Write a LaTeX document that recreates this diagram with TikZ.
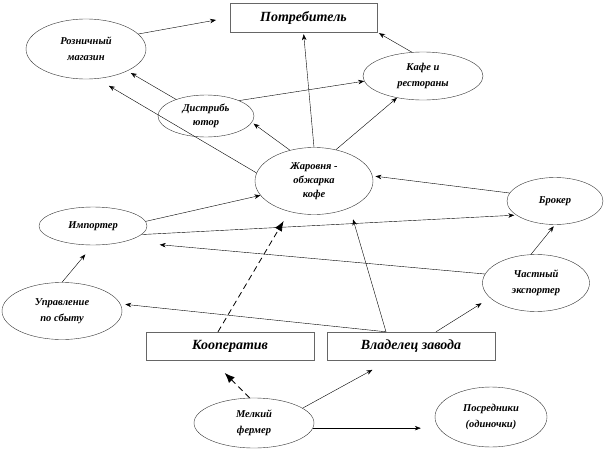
\documentclass[tikz,border=0pt]{standalone}
\usepackage{fontspec}
\setmainfont{Liberation Serif}
\usetikzlibrary{shapes.geometric, arrows.meta}
\tikzset{
  oval/.style={ellipse, draw=black!80, thin, inner sep=0pt, align=center,
    font=\fontsize{10.5}{16}\selectfont\bfseries\itshape},
  box/.style={rectangle, draw=black!60, thin, inner sep=0pt,
    font=\fontsize{14}{16}\selectfont\bfseries\itshape},
  arr/.style={-{Stealth[length=6pt,width=4.5pt]}, thin},
  darr/.style={-{Latex[length=10pt,width=8pt]}, thick, dash pattern=on 6pt off 4pt},
}

\begin{document}
\begin{tikzpicture}[x=1pt, y=-1pt]
    \useasboundingbox (0,0) rectangle (606,450);

    \node[box, minimum width=147pt, minimum height=29pt] (potr) at (303.5,17.5) {Потребитель};
    \node[box, minimum width=168pt, minimum height=28pt] (koop) at (230,346) {Кооператив};
    \node[box, minimum width=168pt, minimum height=28pt] (vlad) at (411,346) {Владелец завода};

    \node[oval, minimum width=120pt, minimum height=60pt] (roz) at (86,49) {Розничный\\магазин};
    \node[oval, minimum width=120pt, minimum height=48pt] (kafe) at (423,76) {Кафе и\\рестораны};
    \node[oval, minimum width=96pt, minimum height=42pt, font=\fontsize{10.5}{14}\selectfont\bfseries\itshape] (dist) at (206,116) {Дистрибь\\ютор};
    \node[oval, minimum width=118pt, minimum height=67pt, font=\fontsize{10.5}{14}\selectfont\bfseries\itshape] (zhar) at (314,181) {Жаровня -\\обжарка\\кофе};
    \node[oval, minimum width=108pt, minimum height=38pt] (imp) at (93,226) {Импортер};
    \node[oval, minimum width=96pt, minimum height=47pt] (brok) at (555,201) {Брокер};
    \node[oval, minimum width=120pt, minimum height=57pt] (upr) at (62,311) {Управление\\по сбыту};
    \node[oval, minimum width=107pt, minimum height=57pt] (chast) at (536,283) {Частный\\экспортер};
    \node[oval, minimum width=120pt, minimum height=50pt] (melk) at (254,423) {Мелкий\\фермер};
    \node[oval, minimum width=112pt, minimum height=60pt] (posr) at (491,417) {Посредники\\(одиночки)};

    \draw[arr, shorten >=14pt] (roz.16) -- (potr.west);
    \draw[arr, shorten >=2pt] (kafe.115) -- (potr.south east);
    \draw[arr, shorten >=4pt] (dist.151) -- (roz.-28);
    \draw[arr] (dist.25) -- (kafe.185);

    \draw[arr, shorten >=2pt] (zhar.north) -- (potr.south);
    \draw[arr, shorten >=2pt] (zhar.128) -- (dist.-8);
    \draw[arr] (zhar.55) -- (kafe.220);
    \draw[arr, shorten >=14pt] (zhar.172) -- (roz.-70);

    \draw[arr] (imp.5) -- (zhar.195);
    \draw[arr, shorten >=2pt] (imp.-10) -- (brok.200);
    \draw[arr, shorten >=3pt] (brok.170) -- (zhar.5);
    \draw[arr, shorten >=35pt] (chast.170) -- (imp.-26);
    \draw[arr, shorten >=2pt] (chast.100) -- (brok.south);
    \draw[arr, shorten >=12pt] (upr.north) -- (imp.south);

    \draw[arr, shorten >=5pt] ([xshift=-25pt]vlad.north) -- (upr.7);
    \draw[arr, shorten >=12pt] ([xshift=-25pt]vlad.north) -- (zhar.-37);
    \draw[arr, shorten >=10pt] ([xshift=25pt]vlad.north) -- (chast.198);
    \draw[darr, shorten >=11pt] ([xshift=-12pt]koop.north) -- (zhar.231);

    \draw[darr, shorten >=18pt] (melk.100) -- ([xshift=-18pt]koop.south);
    \draw[arr, shorten >=20pt] (melk.17) -- ([xshift=-21pt]vlad.south);
    \draw[arr, shorten >=14pt] (melk.-5) -- (posr.west |- melk.-5);
\end{tikzpicture}
\end{document}
